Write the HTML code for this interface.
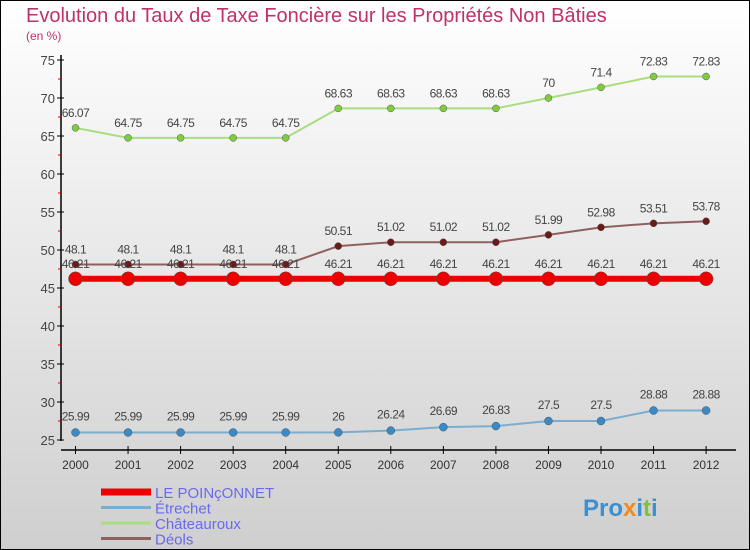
<!DOCTYPE html>
<html><head><meta charset="utf-8"><style>
body{margin:0}
#c{width:750px;height:550px;position:relative;box-sizing:border-box;border:1px solid #000;background:linear-gradient(#fff,#cfcfcf);font-family:"Liberation Sans","DejaVu Sans",sans-serif;overflow:hidden}
</style></head><body>
<div id="c">
<svg id="s" width="750" height="550" style="position:absolute;left:-1px;top:-1px">
<text x="26" y="22" font-size="20" fill="#c0306a">Evolution du Taux de Taxe Foncière sur les Propriétés Non Bâties</text>
<text x="26" y="40" font-size="12" fill="#c0306a">(en %)</text>
<g id="g"></g>
</svg>
</div>
<script>
const years=['2000','2001','2002','2003','2004','2005','2006','2007','2008','2009','2010','2011','2012'];
const yTicks=[25,30,35,40,45,50,55,60,65,70,75];
const poinconnet=[46.21,46.21,46.21,46.21,46.21,46.21,46.21,46.21,46.21,46.21,46.21,46.21,46.21];
const etrechet=[25.99,25.99,25.99,25.99,25.99,26,26.24,26.69,26.83,27.5,27.5,28.88,28.88];
const chateauroux=[66.07,64.75,64.75,64.75,64.75,68.63,68.63,68.63,68.63,70,71.4,72.83,72.83];
const deols=[48.1,48.1,48.1,48.1,48.1,50.51,51.02,51.02,51.02,51.99,52.98,53.51,53.78];
const NS='http://www.w3.org/2000/svg';
const g=document.getElementById('g');
const X=i=>75.5+i*52.55;
const Y=v=>440-(v-25)*7.6;
function el(t,a,p){const e=document.createElementNS(NS,t);for(const k in a)e.setAttribute(k,a[k]);(p||g).appendChild(e);return e;}
let ax=el('line',{x1:61,y1:55,x2:61,y2:441,stroke:'#000','stroke-width':1.5});


let xa=el('line',{x1:61,y1:450,x2:736,y2:450,stroke:'#000','stroke-width':1.5});


yTicks.forEach(v=>{
 el('line',{x1:57,y1:Y(v),x2:64,y2:Y(v),stroke:'#000'});
 if(v<75) el('line',{x1:58,y1:Y(v+2.5),x2:61,y2:Y(v+2.5),stroke:'#d00'});
 const t=el('text',{x:55,y:Y(v)+5,'font-size':13,fill:'#444','text-anchor':'end'});
 t.textContent=v;
 
 
});
years.forEach((y,i)=>{
 el('line',{x1:X(i),y1:446,x2:X(i),y2:454,stroke:'#000'});
 const t=el('text',{x:X(i),y:469,'font-size':12,fill:'#333','text-anchor':'middle'});
 t.textContent=y;
 
 
});
function series(name,data,color,dot,lw,r,labelOff){
 const pts=data.map((v,i)=>X(i)+','+Y(v)).join(' ');
 const pl=el('polyline',{points:pts,fill:'none',stroke:color,'stroke-width':lw});
 
 
 data.forEach((v,i)=>{
  const c=el('circle',{cx:X(i),cy:Y(v),r:r,fill:dot,stroke:'#555','stroke-width':0.5});
  
  
  const t=el('text',{x:X(i),y:Y(v)+labelOff,'font-size':12,fill:'#444','text-anchor':'middle','letter-spacing':'-0.5'});
  t.textContent=String(v);
  
  
 });
}
series('etrechet',etrechet,'#7aaed0','#3a8ac8',2,4,-12);
series('chateauroux',chateauroux,'#a8de80','#80cc40',2,3.5,-11);
series('deols',deols,'#906060','#6a1a1a',2,3.5,-11);
series('le-poinconnet',poinconnet,'#ee0000','#ee0000',6,7,-11);
const leg=[['LE POINçONNET','#ee0000',7],['Étrechet','#7aaed0',3],['Châteauroux','#a8de80',3],['Déols','#906060',3]];
leg.forEach((l,i)=>{
 const y=492+i*15.5;
 el('line',{x1:101,y1:y,x2:151,y2:y,stroke:l[1],'stroke-width':l[2]});
 const t=el('text',{x:155,y:y+6,'font-size':15,fill:'#6a6aee'});
 t.textContent=l[0];
 
 
});
const lg=el('text',{x:583,y:516,'font-size':24,'font-weight':'bold',fill:'#3a90d0'});
lg.innerHTML='Pro<tspan fill="#f08a20">x</tspan>i<tspan fill="#80c040">t</tspan>i';


</script>
</body></html>
